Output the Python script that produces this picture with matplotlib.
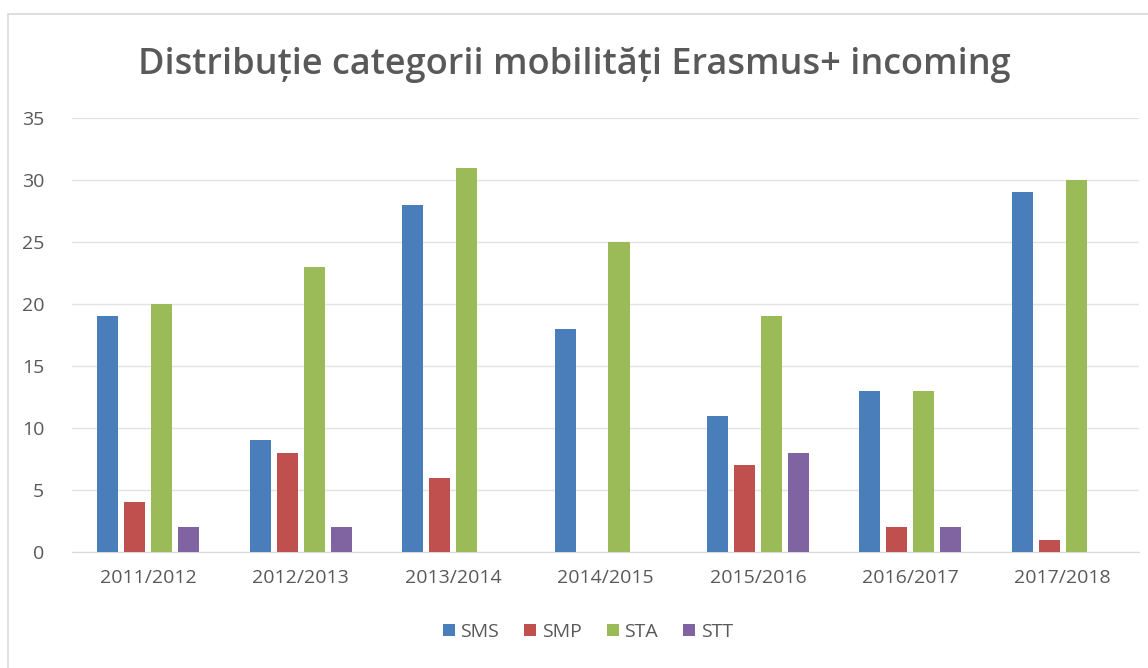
import numpy as np
import matplotlib.pyplot as plt
from matplotlib.patches import Rectangle

years = ['2011/2012', '2012/2013', '2013/2014', '2014/2015', '2015/2016', '2016/2017', '2017/2018']
sms = [19, 9, 28, 18, 11, 13, 29]
smp = [4, 8, 6, 0, 7, 2, 1]
sta = [20, 23, 31, 25, 19, 13, 30]
stt = [2, 2, 0, 0, 8, 2, 0]
series = ['SMS', 'SMP', 'STA', 'STT']
colors = ['#4a7ebb', '#c0504d', '#9bbb59', '#8064a2']

plt.rcParams['font.family'] = ['Open Sans', 'DejaVu Sans']

W, H = 1148, 668
fig = plt.figure(figsize=(W / 100, H / 100), dpi=100)
fig.patches.append(Rectangle((8 / W, -0.01), 1.1, 1 - 14 / H + 0.01, transform=fig.transFigure,
                             fill=False, edgecolor='#d9d9d9', linewidth=1.2))

ax = fig.add_axes([72 / W, 1 - 552 / H, (1139 - 72) / W, (552 - 118) / H])
x = np.arange(len(years))
width = 0.138
step = 0.177
for i, (name, vals) in enumerate(zip(series, [sms, smp, sta, stt])):
    ax.bar(x + (i - 1.5) * step, vals, width, color=colors[i], label=name, zorder=3)

ax.set_xlim(-0.5, len(years) - 0.5)
ax.set_ylim(0, 35)
ax.set_yticks(range(0, 36, 5))
ax.grid(axis='y', color='#e3e3e3', linewidth=1, zorder=0)
ax.set_xticks(x)
ax.set_xticklabels(years)
ax.tick_params(axis='both', length=0, labelsize=14, labelcolor='#595959')
ax.tick_params(axis='x', pad=12)
ax.tick_params(axis='y', pad=20)
for s in ['top', 'right', 'left']:
    ax.spines[s].set_visible(False)
ax.spines['bottom'].set_color('#d9d9d9')

fig.text(0.5, 1 - 65 / H, 'Distribuție categorii mobilități Erasmus+ incoming', ha='center', va='center',
         fontsize=26, fontweight='semibold', color='#595959')

fig.legend(loc='center', bbox_to_anchor=(588 / W, 1 - 632 / H), ncol=4, frameon=False,
           fontsize=14, labelcolor='#595959', handlelength=0.6, handleheight=0.6,
           handletextpad=0.3, columnspacing=1.3)

fig.savefig('out.png', dpi=100, facecolor='white')
